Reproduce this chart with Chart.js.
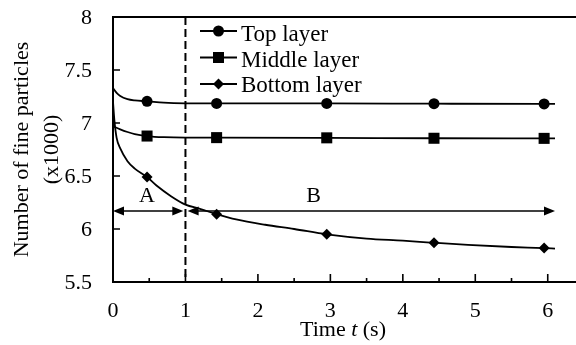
<!DOCTYPE html>
<html>
<head>
<meta charset="utf-8">
<script src="https://cdn.jsdelivr.net/npm/chart.js@4.4.1/dist/chart.umd.min.js"></script>
<style>
  html, body { margin: 0; padding: 0; background: #fff; overflow: hidden; }
  #wrap { width: 576px; height: 345px; position: relative; }
  #fontwarm { position: absolute; left: -2000px; top: 0; font-family: "Liberation Serif", serif; font-size: 22px; }
</style>
</head>
<body>
<div id="fontwarm">Number of fine particles <i>Time t (s)</i></div>
<div id="wrap"><canvas id="c"></canvas></div>
<script>
// Series names
const seriesNames = ['Top layer', 'Middle layer', 'Bottom layer'];

// Smooth curves: time (s) and number of fine particles (x1000)
const topT = [0, 0.05, 0.1, 0.2, 0.3, 0.47, 0.7, 1.0, 1.43, 2.0, 2.95, 4.43, 5.95, 6.1];
const topN = [7.33, 7.285, 7.255, 7.225, 7.213, 7.205, 7.192, 7.186, 7.185, 7.185, 7.185, 7.182, 7.18, 7.18];
const midT = [0, 0.1, 0.2, 0.3, 0.47, 0.7, 1.0, 1.43, 2.95, 4.43, 5.95, 6.1];
const midN = [6.97, 6.94, 6.915, 6.895, 6.877, 6.866, 6.862, 6.862, 6.86, 6.856, 6.855, 6.855];
const botT = [0, 0.02, 0.05, 0.1, 0.2, 0.3, 0.47, 0.6, 0.8, 1.0, 1.2, 1.43, 1.7, 2.1, 2.5, 2.95, 3.5, 4.0, 4.43, 4.9, 5.5, 5.95, 6.1];
const botN = [7.2, 7.02, 6.86, 6.76, 6.64, 6.57, 6.49, 6.41, 6.31, 6.23, 6.19, 6.14, 6.09, 6.04, 6.0, 5.95, 5.91, 5.89, 5.87, 5.85, 5.83, 5.82, 5.815];

// Marked sampling times and values
const markT = [0.47, 1.43, 2.95, 4.43, 5.95];
const topMark = [7.205, 7.185, 7.185, 7.182, 7.18];
const midMark = [6.877, 6.862, 6.86, 6.856, 6.855];
const botMark = [6.49, 6.14, 5.95, 5.87, 5.82];

// Axis ticks
const xTicks = [0, 1, 2, 3, 4, 5, 6];
const xHalfTicks = [0.5, 1.5, 2.5, 3.5, 4.5, 5.5];
const yTicks = [5.5, 6, 6.5, 7, 7.5, 8];

// Stage boundary and stage spans
const stageSplit = 1;
const stageLevel = 6.17;
const stageA = [0, 0.97];
const stageB = [1.03, 6.1];
const stageLabels = ['A', 'B'];
const stageLabelPos = [[0.47, 6.31], [2.77, 6.31]];

const SERIF = '"Liberation Serif", "DejaVu Serif", serif';
const pts = (xs, ys) => xs.map((x, i) => ({ x: x, y: ys[i] }));

function drawMarker(ctx, style, x, y) {
  ctx.beginPath();
  if (style === 'circle') {
    ctx.arc(x, y, 5.5, 0, Math.PI * 2);
  } else if (style === 'rect') {
    ctx.rect(x - 5.5, y - 5.5, 11, 11);
  } else {
    ctx.moveTo(x, y - 5.5); ctx.lineTo(x + 5.5, y); ctx.lineTo(x, y + 5.5); ctx.lineTo(x - 5.5, y);
    ctx.closePath();
  }
  ctx.fill();
}

function arrowHead(ctx, x, y, dir) {
  ctx.beginPath();
  ctx.moveTo(x, y);
  ctx.lineTo(x - dir * 11, y - 4.5);
  ctx.lineTo(x - dir * 11, y + 4.5);
  ctx.closePath();
  ctx.fill();
}

const stagePlugin = {
  id: 'stages',
  beforeDatasetsDraw(chart) {
    const { ctx, scales: { x, y }, chartArea: a } = chart;
    ctx.save();
    ctx.strokeStyle = '#000';
    ctx.fillStyle = '#000';
    // dashed boundary between stages
    ctx.lineWidth = 2;
    ctx.setLineDash([8, 4]);
    const xs = x.getPixelForValue(stageSplit);
    ctx.beginPath(); ctx.moveTo(xs, a.top); ctx.lineTo(xs, a.bottom); ctx.stroke();
    ctx.setLineDash([]);
    // double-headed span arrows
    const yl = y.getPixelForValue(stageLevel);
    ctx.lineWidth = 1.6;
    [stageA, stageB].forEach(s => {
      const x0 = x.getPixelForValue(s[0]), x1 = x.getPixelForValue(s[1]);
      ctx.beginPath(); ctx.moveTo(x0 + 4, yl); ctx.lineTo(x1 - 4, yl); ctx.stroke();
      arrowHead(ctx, x0, yl, -1);
      arrowHead(ctx, x1, yl, 1);
    });
    ctx.font = '22px ' + SERIF;
    ctx.textAlign = 'center';
    ctx.textBaseline = 'middle';
    stageLabels.forEach((t, i) => {
      ctx.fillText(t, x.getPixelForValue(stageLabelPos[i][0]), y.getPixelForValue(stageLabelPos[i][1]));
    });
    ctx.restore();
  }
};

const framePlugin = {
  id: 'frame',
  afterDraw(chart) {
    const { ctx, scales: { x, y }, chartArea: a } = chart;
    ctx.save();
    ctx.strokeStyle = '#000';
    ctx.fillStyle = '#000';
    ctx.lineWidth = 2;
    ctx.beginPath();
    ctx.moveTo(a.left, a.top); ctx.lineTo(a.right, a.top);
    ctx.moveTo(a.left, a.top - 1); ctx.lineTo(a.left, a.bottom + 1);
    ctx.moveTo(a.left - 1, a.bottom); ctx.lineTo(a.right, a.bottom);
    ctx.stroke();
    // inward ticks
    ctx.lineWidth = 1.6;
    ctx.beginPath();
    yTicks.forEach(v => { const p = y.getPixelForValue(v); ctx.moveTo(a.left, p); ctx.lineTo(a.left + 7, p); });
    xTicks.forEach(v => { const p = x.getPixelForValue(v); ctx.moveTo(p, a.bottom); ctx.lineTo(p, a.bottom - 8); });
    xHalfTicks.forEach(v => { const p = x.getPixelForValue(v); ctx.moveTo(p, a.bottom); ctx.lineTo(p, a.bottom - 4); });
    ctx.stroke();

    // x-axis title with italic variable
    const parts = [['Time ', ''], ['t', 'italic '], [' (s)', '']];
    let total = 0;
    parts.forEach(p => { ctx.font = p[1] + '22px ' + SERIF; total += ctx.measureText(p[0]).width; });
    let cx = 343 - total / 2;
    ctx.textBaseline = 'alphabetic';
    ctx.textAlign = 'left';
    parts.forEach(p => {
      ctx.font = p[1] + '22px ' + SERIF;
      ctx.fillText(p[0], cx, 335.5);
      cx += ctx.measureText(p[0]).width;
    });

    // legend
    const styles = ['circle', 'rect', 'rectRot'];
    const rowY = [31, 57.5, 84];
    const baseY = [40.7, 66.5, 91.7];
    ctx.font = '23px ' + SERIF;
    seriesNames.forEach((name, i) => {
      ctx.lineWidth = 1.8;
      ctx.beginPath(); ctx.moveTo(200, rowY[i]); ctx.lineTo(237, rowY[i]); ctx.stroke();
      drawMarker(ctx, styles[i], 218.5, rowY[i]);
      ctx.fillText(name, 241, baseY[i]);
    });
    ctx.restore();
  }
};

const curve = (data) => ({
  type: 'line', data: data, borderColor: '#000', borderWidth: 1.8,
  pointRadius: 0, tension: 0.4, cubicInterpolationMode: 'monotone', fill: false
});
const marks = (data, style, r) => ({
  type: 'line', data: data, showLine: false, pointStyle: style, pointRadius: r,
  backgroundColor: '#000', borderColor: '#000', borderWidth: 0
});

function build() {
  new Chart(document.getElementById('c'), {
    data: {
      datasets: [
        Object.assign(curve(pts(topT, topN)), { label: seriesNames[0] }),
        Object.assign(curve(pts(midT, midN)), { label: seriesNames[1] }),
        Object.assign(curve(pts(botT, botN)), { label: seriesNames[2] }),
        marks(pts(markT, topMark), 'circle', 5.5),
        marks(pts(markT, midMark), 'rect', 7.8),
        marks(pts(markT, botMark), 'rectRot', 5.5)
      ]
    },
    options: {
      responsive: true,
      maintainAspectRatio: false,
      devicePixelRatio: 1,
      animation: false,
      layout: { autoPadding: false, padding: { top: 17, right: 0, left: 0, bottom: 0 } },
      plugins: { legend: { display: false }, tooltip: { enabled: false } },
      scales: {
        x: {
          type: 'linear', min: 0, max: 6.39,
          afterBuildTicks: s => { s.ticks = xTicks.map(v => ({ value: v })); },
          afterFit: s => { s.height = 63; s.paddingLeft = 0; s.paddingRight = 0; },
          grid: { display: false, drawTicks: false },
          border: { display: false },
          ticks: { color: '#000', padding: 16, maxRotation: 0, font: { family: SERIF, size: 22 },
                   callback: v => String(v) }
        },
        y: {
          type: 'linear', min: 5.5, max: 8,
          afterBuildTicks: s => { s.ticks = yTicks.map(v => ({ value: v })); },
          afterFit: s => { s.width = 113; s.paddingTop = 0; s.paddingBottom = 0; },
          grid: { display: false, drawTicks: false },
          border: { display: false },
          ticks: { color: '#000', padding: 21, labelOffset: 1, font: { family: SERIF, size: 22 },
                   callback: v => String(v) },
          title: { display: true, text: ['Number of fine particles', '(x1000)'], color: '#000',
                   padding: { top: 7, bottom: 0 },
                   font: { family: SERIF, size: 22, lineHeight: 1.36 } }
        }
      }
    },
    plugins: [stagePlugin, framePlugin]
  });
}

build();
</script>
</body>
</html>
